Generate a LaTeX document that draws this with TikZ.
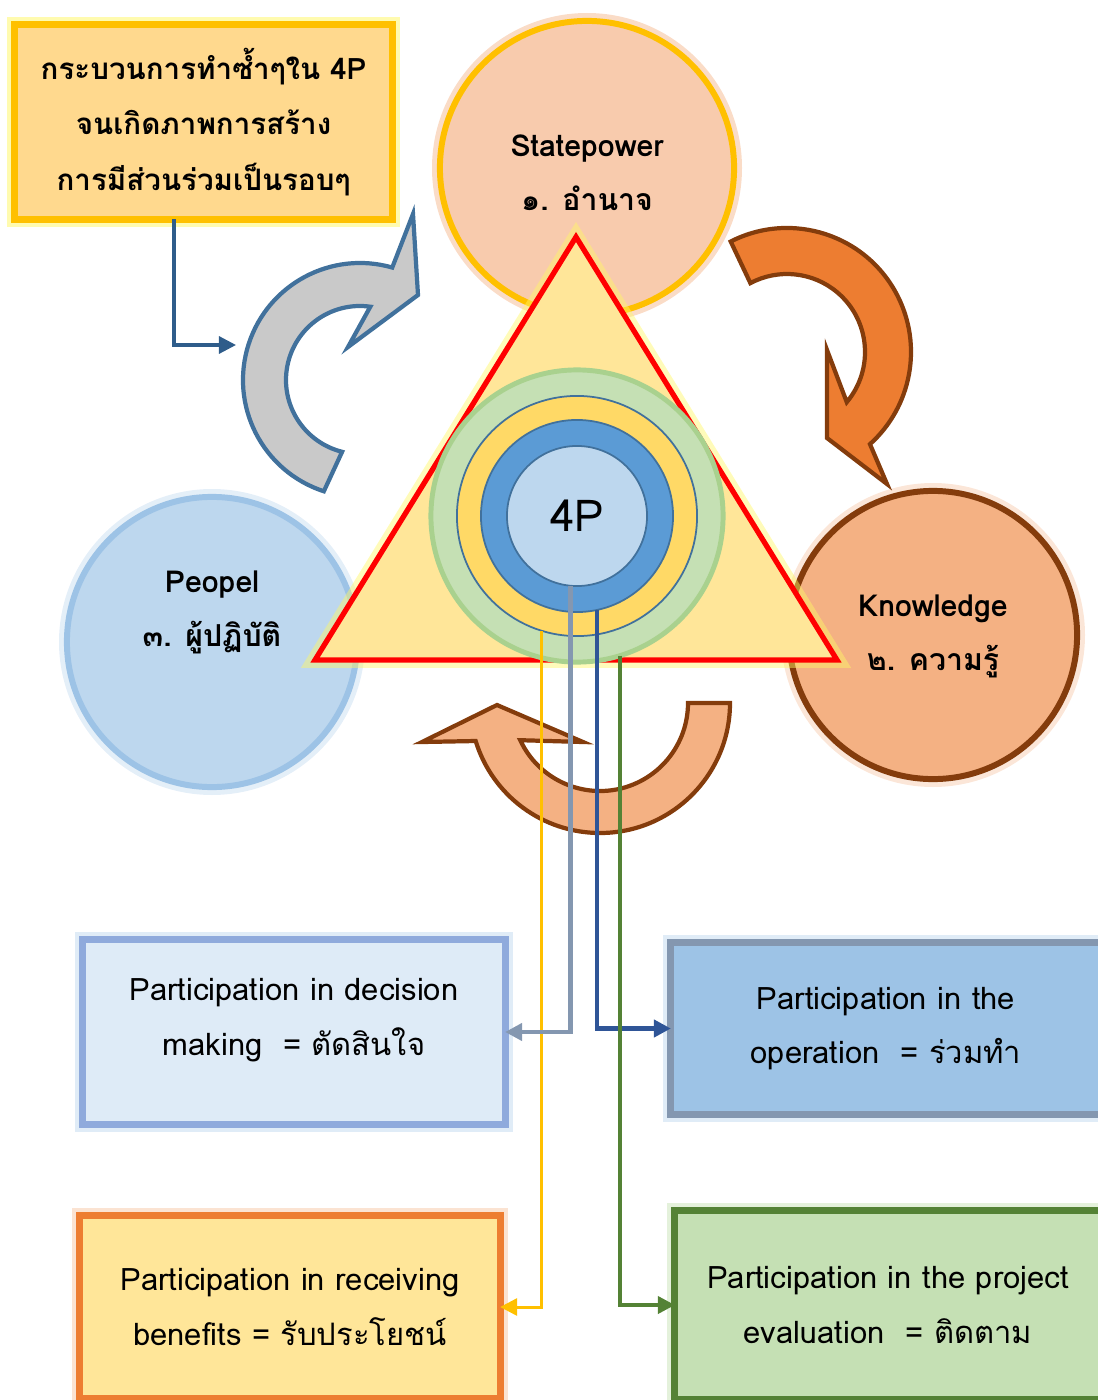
\documentclass[tikz,border=0pt]{standalone}
\usepackage{fontspec}
\setmainfont[Script=Thai]{Loma}
\usetikzlibrary{arrows.meta,calc}

\definecolor{cGold}{HTML}{FFC000}
\definecolor{cTbox}{HTML}{FFD98E}
\definecolor{cState}{HTML}{F8CBAD}
\definecolor{cTri}{HTML}{FFE699}
\definecolor{cGreenF}{HTML}{C5E0B4}
\definecolor{cGreenL}{HTML}{A9D18E}
\definecolor{cYelF}{HTML}{FFD966}
\definecolor{cBlueF}{HTML}{5B9BD5}
\definecolor{cBlueL}{HTML}{41719C}
\definecolor{cSky}{HTML}{BDD7EE}
\definecolor{cSkyL}{HTML}{9DC3E6}
\definecolor{cPeach}{HTML}{F4B183}
\definecolor{cBrown}{HTML}{843C0C}
\definecolor{cOrange}{HTML}{ED7D31}
\definecolor{cGray}{HTML}{C9C9C9}
\definecolor{cPale}{HTML}{DEEBF7}
\definecolor{cPaleL}{HTML}{8FAADC}
\definecolor{cSlate}{HTML}{8497B0}
\definecolor{cNavy}{HTML}{2F5597}
\definecolor{cDkGreen}{HTML}{548235}
\definecolor{cLink}{HTML}{2E5C8A}

\tikzset{
  glow/.style={preaction={draw=#1,line width=4.5pt,opacity=.45}},
  ball/.style={circle,draw,line width=1.7pt,outer sep=0pt},
  ring/.style={circle,draw=cBlueL,line width=0.5pt,outer sep=0pt},
  partbox/.style={rectangle,draw,line width=2pt,align=center,outer sep=0pt,
    font=\fontsize{8.8}{15.4}\selectfont},
  lbl/.style={align=center,font=\bfseries\fontsize{8.6}{15.4}\selectfont},
  loopshape/.style={line width=1.2pt,line join=miter},
  conn/.style={line width=#1,-{Triangle[length=0.17cm,width=0.17cm]}},
}

\begin{document}
\begin{tikzpicture}[x=0.01cm,y=-0.01cm]
  \clip (0,0) rectangle (1098,1400);

  \node[partbox,glow=yellow!70,draw=cGold,fill=cTbox,minimum width=3.77cm,minimum height=1.94cm,
    font=\bfseries\fontsize{8.4}{15.8}\selectfont] (tbox) at (203.5,122)
    {กระบวนการทำซ้ำๆใน 4P\\จนเกิดภาพการสร้าง\\การมีส่วนร่วมเป็นรอบๆ};

  \node[ball,glow=cPeach,draw=cGold,fill=cState,minimum size=2.94cm,
    label={[lbl,yshift=-0.05cm]center:Statepower\\๑. อำนาจ}] (state) at (587,168) {};
  \node[ball,glow=cPeach!70,draw=cBrown,fill=cPeach,minimum size=2.88cm,
    label={[lbl,yshift=-0.01cm]center:Knowledge\\๒. ความรู้}] (know) at (933,635) {};
  \node[ball,glow=cSkyL!60,draw=cSkyL,fill=cSky,minimum size=2.9cm,
    label={[lbl,yshift=0.3cm]center:Peopel\\๓. ผู้ปฏิบัติ}] (peopel) at (212,642) {};

  \draw[glow=yellow!60,draw=red,fill=cTri,line width=1.5pt,line join=miter] (576,237) -- (837,660) -- (315,660) -- cycle;

  \node[ball,draw=cGreenL,fill=cGreenF,line width=1.4pt,minimum size=2.92cm] (green) at (577,516) {};
  \node[ring,fill=cYelF,minimum size=2.4cm] (ringY) at (577,516) {};
  \node[ring,fill=cBlueF,minimum size=1.92cm] (blue) at (577,516) {};
  \node[ring,fill=cSky,minimum size=1.4cm,font=\fontsize{12.5}{14}\selectfont] (core) at (577,516) {4P};

  \coordinate (oc) at (787,352);
  \draw[loopshape,draw=cBrown,fill=cOrange] ($(oc)+(243:124)$) arc[start angle=243,end angle=408,radius=124]
    -- (887,484) -- (827,438) -- (827,350) -- ($(oc)+(40:78)$) arc[start angle=40,end angle=-118,radius=78] -- cycle;
  \coordinate (gc) at (360,380);
  \draw[loopshape,draw=cBlueL,fill=cGray] ($(gc)+(108:117)$) arc[start angle=108,end angle=286,radius=117]
    -- (413,214) -- (418,295) -- (348,347) -- ($(gc)+(278:74)$) arc[start angle=278,end angle=104,radius=74] -- cycle;
  \coordinate (pc) at (600,703);
  \draw[loopshape,draw=cBrown,fill=cPeach] ($(pc)+(0:130)$) arc[start angle=0,end angle=163,radius=130]
    -- (422,742) -- (497,705) -- (583,742) -- ($(pc)+(155:88)$) arc[start angle=155,end angle=0,radius=88] -- cycle;

  \node[partbox,glow=cSkyL!70,draw=cPaleL,fill=cPale,minimum width=4.22cm,minimum height=1.84cm] (decide) at (294,1032)
    {Participation in decision\\making\ \ = ตัดสินใจ\\[-0.24cm]\mbox{}};
  \node[partbox,glow=cSkyL!70,draw=cSlate,fill=cSkyL,minimum width=4.3cm,minimum height=1.71cm] (operate) at (886,1028.5)
    {Participation in the\\operation\ \ = ร่วมทำ};
  \node[partbox,glow=cPeach!80,draw=cOrange,fill=cTri,minimum width=4.2cm,minimum height=1.82cm] (benefit) at (290,1307)
    {Participation in receiving\\benefits = รับประโยชน์};
  \node[partbox,glow=cGreenL!70,draw=cDkGreen,fill=cGreenF,minimum width=4.26cm,minimum height=1.88cm] (evaluate) at (888,1305)
    {Participation in the project\\evaluation\ \ = ติดตาม};

  \coordinate (garr) at (236,345);
  \draw[conn=0.9pt,cLink] ([xshift=-0.295cm]tbox.south) |- (garr);
  \draw[conn=0.85pt,cGold] (ringY.253.5) |- (benefit.east);
  \draw[conn=1.4pt,cSlate] (core.265) |- (decide.east);
  \draw[conn=1.4pt,cNavy] (blue.282) |- (operate.west);
  \draw[conn=1.1pt,cDkGreen] (green.287) |- (evaluate.west);
\end{tikzpicture}
\end{document}
